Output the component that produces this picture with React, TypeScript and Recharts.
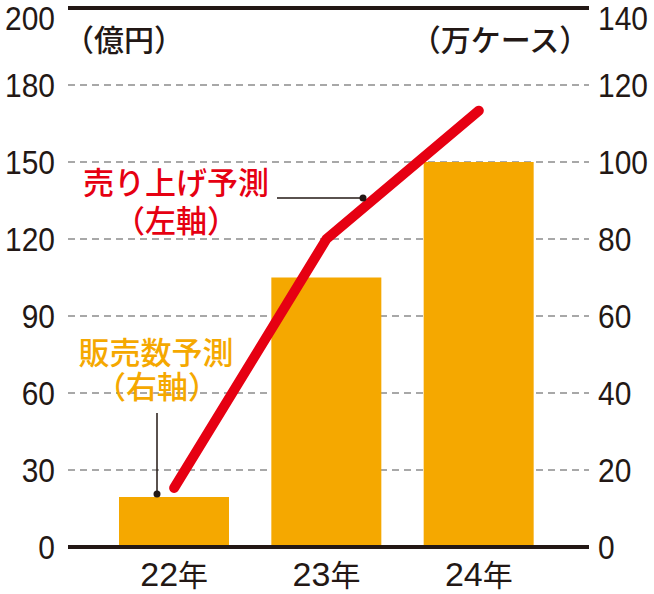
import { Bar, CartesianGrid, ComposedChart, Line, ReferenceLine, XAxis, YAxis } from 'recharts'

const years = ['22年', '23年', '24年']
// 売り上げ予測（億円, 左軸）
const salesForecast = [23, 120, 170]
// 販売数予測（万ケース, 右軸）
const unitForecast = [13, 70, 100]

const leftTicks = [0, 30, 60, 90, 120, 150, 180, 210]
const leftTickLabels = ['0', '30', '60', '90', '120', '150', '180', '200']
const rightTicks = [0, 20, 40, 60, 80, 100, 120, 140]

const INK = '#231815'
const RED = '#e60012'
const ORANGE = '#f5a800'
const NUM_FONT = '"Liberation Sans Narrow", "Liberation Sans", sans-serif'
const JP_FONT = '"Noto Sans CJK JP", "Noto Sans", sans-serif'

const data = years.map((year, i) => ({
  year,
  sales: salesForecast[i],
  units: unitForecast[i],
}))

// condensed look for the numbers (no narrow font installed)
const SQUEEZE = 0.88

function LeftTick(props: any) {
  const { x, y, payload, index } = props
  const cy = Math.max(y, 18)
  return (
    <text
      transform={`translate(${x - 13},${cy + 12}) scale(${SQUEEZE},1)`}
      textAnchor="end"
      fontFamily={NUM_FONT}
      fontSize={34}
      fill={INK}
    >
      {leftTickLabels[index] ?? payload.value}
    </text>
  )
}

function RightTick(props: any) {
  const { x, y, payload } = props
  const cy = Math.max(y, 18)
  return (
    <text
      transform={`translate(${x + 9},${cy + 12}) scale(${SQUEEZE},1)`}
      textAnchor="start"
      fontFamily={NUM_FONT}
      fontSize={34}
      fill={INK}
    >
      {payload.value}
    </text>
  )
}

function YearTick(props: any) {
  const { x, y, payload } = props
  const m = /^(\d+)(.*)$/.exec(payload.value)
  return (
    <text x={x} y={y + 39} textAnchor="middle" fill={INK} fontSize={34}>
      <tspan fontFamily={NUM_FONT}>{m ? m[1] : payload.value}</tspan>
      <tspan fontFamily={JP_FONT} fontSize={30}>{m ? m[2] : ''}</tspan>
    </text>
  )
}

function Notes() {
  return (
    <svg width={654} height={594} style={{ position: 'absolute', left: 0, top: 0, pointerEvents: 'none' }}>
      <g fontFamily={JP_FONT} fontSize={30} fontWeight={500} fill={INK} textAnchor="middle">
        <text x={124} y={51}>（億円）</text>
        <text x={500} y={51}>（万ケース）</text>
      </g>
      <g fontFamily={JP_FONT} fontSize={31} fontWeight={500} fill={RED} textAnchor="middle">
        <text x={176} y={194}>売り上げ予測</text>
        <text x={176} y={232}>（左軸）</text>
      </g>
      <line x1={277} y1={198} x2={363} y2={198} stroke={INK} strokeWidth={1.5} />
      <circle cx={363} cy={198} r={3.5} fill={INK} />
      <g fontFamily={JP_FONT} fontSize={31} fontWeight={500} fill={ORANGE} textAnchor="middle">
        <text x={156} y={364}>販売数予測</text>
        <text x={157} y={398}>（右軸）</text>
      </g>
      <line x1={157} y1={413} x2={157} y2={494} stroke={INK} strokeWidth={1.5} />
      <circle cx={157} cy={494} r={3.5} fill={INK} />
    </svg>
  )
}

export default function App() {
  return (
    <div style={{ position: 'relative', width: 654, height: 594, background: '#fff' }}>
      <style>{'body{margin:0}'}</style>
      <ComposedChart width={654} height={594} data={data} margin={{ top: 8, right: 0, bottom: 0, left: 0 }}>
        <CartesianGrid
          yAxisId="left"
          vertical={false}
          stroke="#8c8c8c"
          strokeWidth={1.5}
          strokeDasharray="7 5"
        />
        <XAxis
          dataKey="year"
          height={47}
          axisLine={false}
          tickLine={false}
          tickSize={0}
          tickMargin={0}
          padding={{ left: 30, right: 34 }}
          tick={<YearTick />}
          interval={0}
        />
        <YAxis
          yAxisId="left"
          width={68}
          domain={[0, 210]}
          ticks={leftTicks}
          axisLine={false}
          tickLine={false}
          tickSize={0}
          tickMargin={0}
          tick={<LeftTick />}
          interval={0}
        />
        <YAxis
          yAxisId="right"
          orientation="right"
          width={65}
          domain={[0, 140]}
          ticks={rightTicks}
          axisLine={false}
          tickLine={false}
          tickSize={0}
          tickMargin={0}
          tick={<RightTick />}
          interval={0}
        />
        <Bar yAxisId="right" dataKey="units" fill={ORANGE} barSize={110} isAnimationActive={false} />
        <Line
          yAxisId="left"
          type="linear"
          dataKey="sales"
          stroke={RED}
          strokeWidth={10}
          strokeLinecap="round"
          dot={false}
          activeDot={false}
          isAnimationActive={false}
        />
        <ReferenceLine yAxisId="left" y={210} stroke={INK} strokeWidth={4} />
        <ReferenceLine yAxisId="left" y={0} stroke={INK} strokeWidth={4} />
      </ComposedChart>
      <Notes />
    </div>
  )
}
